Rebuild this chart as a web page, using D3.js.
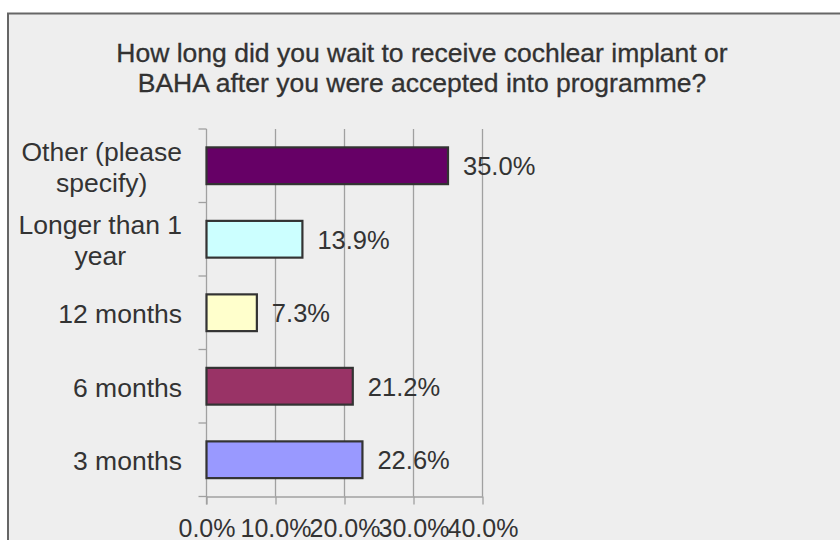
<!DOCTYPE html>
<html>
<head>
<meta charset="utf-8">
<script src="https://cdn.jsdelivr.net/npm/d3@7"></script>
<style>
  html, body { margin: 0; padding: 0; background: #ffffff; }
  svg { display: block; }
  text { font-family: "Liberation Sans", Arial, sans-serif; fill: #333333; }
</style>
</head>
<body>
<svg id="chart" width="840" height="540"></svg>
<script>
const titleLines = ["How long did you wait to receive cochlear implant or", "BAHA after you were accepted into programme?"];
const categories = ["Other (please specify)", "Longer than 1 year", "12 months", "6 months", "3 months"];
const categoryLines = [["Other (please", "specify)"], ["Longer than 1", "year"], ["12 months"], ["6 months"], ["3 months"]];
const values = [35.0, 13.9, 7.3, 21.2, 22.6];
const colors = ["#660066", "#CCFFFF", "#FFFFCC", "#993366", "#9999FF"];
const xTicks = [0, 10, 20, 30, 40];
const xTickLabels = ["0.0%", "10.0%", "20.0%", "30.0%", "40.0%"];

const svg = d3.select("#chart");

// frame
svg.append("rect")
  .attr("x", 8).attr("y", 13.5)
  .attr("width", 850).attr("height", 560)
  .attr("fill", "#eeeeee")
  .attr("stroke", "#666666").attr("stroke-width", 2);

// title
const title = svg.append("text")
  .attr("text-anchor", "middle")
  .style("font-size", "26.5px")
  .attr("fill", "#2b2b2b")
  .attr("stroke", "#2b2b2b").attr("stroke-width", 0.3);
titleLines.forEach((t, i) => {
  title.append("tspan").attr("x", 422).attr("y", 62 + i * 30).text(t);
});

const plot = { left: 206.5, right: 482.5, top: 129, bottom: 496.5 };

const x = d3.scaleLinear().domain([0, 40]).range([plot.left, plot.right]);
const y = d3.scaleBand().domain(categories).range([plot.top, plot.bottom]).paddingInner(0.5).paddingOuter(0.25);
const yEdges = d3.scaleLinear().domain([0, categories.length]).range([plot.top, plot.bottom]);

const grid = "#a0a0a0";

// vertical gridlines
svg.append("g").selectAll("line")
  .data(xTicks.slice(1))
  .join("line")
  .attr("x1", d => x(d)).attr("x2", d => x(d))
  .attr("y1", plot.top).attr("y2", plot.bottom)
  .attr("stroke", grid).attr("stroke-width", 1.3);

// bottom axis
const xAxis = d3.axisBottom(x).tickValues(xTicks).tickSize(8).tickSizeOuter(0)
  .tickFormat((d, i) => xTickLabels[i]);
const gx = svg.append("g").attr("transform", `translate(0,${plot.bottom})`).call(xAxis);
gx.select(".domain").attr("stroke", grid).attr("stroke-width", 1.3);
gx.selectAll(".tick line").attr("stroke", grid).attr("stroke-width", 1.3);
gx.selectAll(".tick text")
  .attr("y", 0).attr("dy", null)
  .attr("transform", "translate(0,40)")
  .style("font-size", "25px").attr("fill", "#333333");

// left axis line and category boundary ticks
svg.append("line")
  .attr("x1", plot.left).attr("x2", plot.left)
  .attr("y1", plot.top).attr("y2", plot.bottom + 8)
  .attr("stroke", grid).attr("stroke-width", 1.3);
svg.append("g").selectAll("line")
  .data(d3.range(categories.length + 1))
  .join("line")
  .attr("x1", plot.left - 8).attr("x2", plot.left)
  .attr("y1", d => yEdges(d)).attr("y2", d => yEdges(d))
  .attr("stroke", grid).attr("stroke-width", 1.3);

// bars
svg.append("g").selectAll("rect")
  .data(categories)
  .join("rect")
  .attr("x", plot.left)
  .attr("y", d => y(d))
  .attr("width", (d, i) => x(values[i]) - plot.left)
  .attr("height", y.bandwidth())
  .attr("fill", (d, i) => colors[i])
  .attr("stroke", "#333333").attr("stroke-width", 2.2);

// value labels
svg.append("g").selectAll("text")
  .data(categories)
  .join("text")
  .attr("x", (d, i) => x(values[i]) + 15)
  .attr("y", d => y(d) + y.bandwidth() / 2 + 9.5)
  .style("font-size", "25.5px")
  .text((d, i) => values[i].toFixed(1) + "%");

// category labels: block right-aligned, lines centered within block
const labelRight = 182;
const lineH = 31;
categories.forEach((c, i) => {
  const lines = categoryLines[i];
  const cy = y(c) + y.bandwidth() / 2;
  const g = svg.append("g");
  const texts = lines.map((l, j) => g.append("text")
    .attr("text-anchor", "middle")
    .style("font-size", "26.5px")
    .attr("y", cy + 10.5 + (j - (lines.length - 1) / 2) * lineH)
    .text(l));
  const maxW = d3.max(texts, t => t.node().getComputedTextLength());
  texts.forEach(t => t.attr("x", labelRight - maxW / 2));
});
</script>
</body>
</html>
